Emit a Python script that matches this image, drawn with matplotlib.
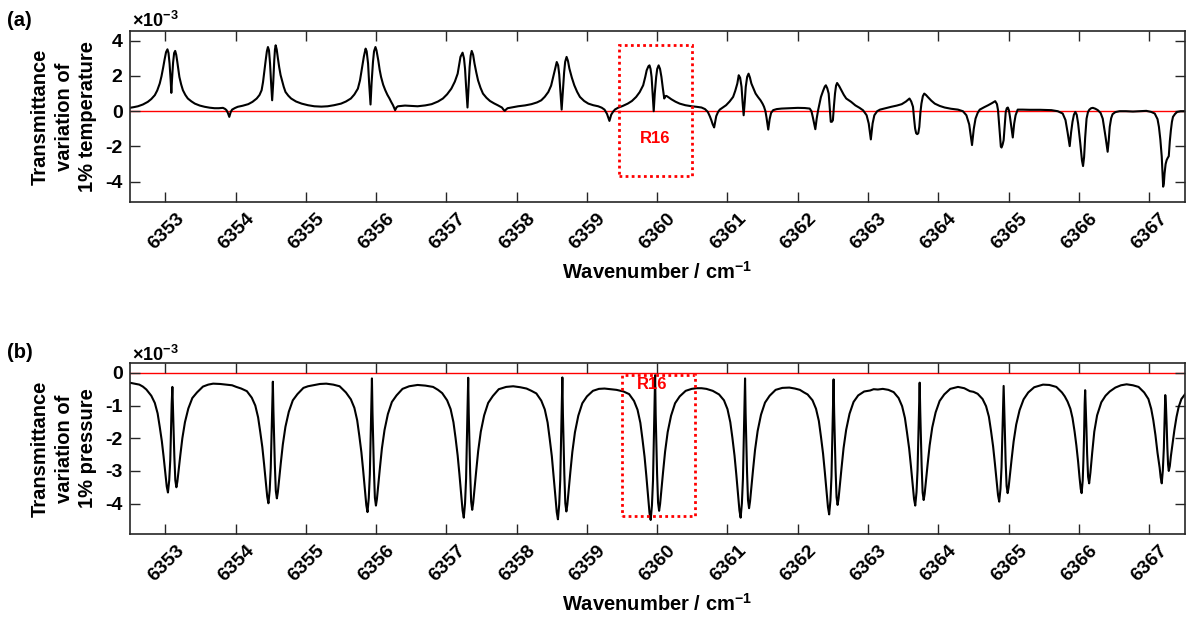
import matplotlib
matplotlib.use("Agg")
import matplotlib.pyplot as plt
import matplotlib.transforms as mtransforms
from matplotlib.patches import Rectangle

plt.rcParams['font.family'] = ['Liberation Sans', 'DejaVu Sans']
plt.rcParams['font.weight'] = 'bold'
plt.rcParams['axes.labelweight'] = 'bold'
plt.rcParams['mathtext.fontset'] = 'custom'
plt.rcParams['mathtext.rm'] = 'Liberation Sans:bold'
plt.rcParams['mathtext.bf'] = 'Liberation Sans:bold'
plt.rcParams['mathtext.default'] = 'bf'

# (a) transmittance change for +1% temperature: (wavenumber, value in 1e-3)
trace_a = [
    (6352.49, 0.19), (6352.55, 0.23), (6352.61, 0.28), (6352.68, 0.38), (6352.75, 0.53),
    (6352.80, 0.69), (6352.85, 0.91), (6352.885, 1.18), (6352.92, 1.57), (6352.945, 1.98),
    (6352.97, 2.50), (6352.99, 2.95), (6353.01, 3.35), (6353.03, 3.51), (6353.045, 3.30),
    (6353.06, 2.70), (6353.075, 1.80), (6353.085, 1.04), (6353.095, 1.80), (6353.11, 2.75),
    (6353.125, 3.30), (6353.14, 3.42), (6353.155, 3.20), (6353.17, 2.80), (6353.185, 2.35),
    (6353.20, 1.94), (6353.225, 1.52), (6353.25, 1.19), (6353.285, 0.92), (6353.32, 0.72),
    (6353.37, 0.56), (6353.42, 0.43), (6353.49, 0.32), (6353.56, 0.25), (6353.63, 0.20),
    (6353.70, 0.17), (6353.76, 0.17), (6353.82, 0.19), (6353.85, 0.13), (6353.87, 0.06),
    (6353.89, -0.10), (6353.91, -0.32), (6353.93, -0.05), (6353.95, 0.09), (6353.99, 0.18),
    (6354.03, 0.25), (6354.10, 0.31), (6354.18, 0.40), (6354.24, 0.53), (6354.30, 0.72),
    (6354.34, 0.92), (6354.37, 1.19), (6354.39, 1.65), (6354.41, 2.32), (6354.43, 2.95),
    (6354.445, 3.40), (6354.46, 3.64), (6354.475, 3.45), (6354.49, 2.70), (6354.505, 1.60),
    (6354.52, 0.62), (6354.535, 1.60), (6354.55, 2.90), (6354.56, 3.50), (6354.57, 3.74),
    (6354.585, 3.50), (6354.60, 3.05), (6354.62, 2.50), (6354.64, 2.05), (6354.66, 1.75),
    (6354.685, 1.38), (6354.71, 1.09), (6354.75, 0.88), (6354.79, 0.72), (6354.86, 0.55),
    (6354.94, 0.43), (6355.03, 0.34), (6355.12, 0.28), (6355.22, 0.26), (6355.31, 0.28),
    (6355.40, 0.34), (6355.50, 0.43), (6355.57, 0.55), (6355.64, 0.72), (6355.69, 0.95),
    (6355.74, 1.28), (6355.77, 1.75), (6355.80, 2.50), (6355.825, 3.10), (6355.85, 3.55),
    (6355.865, 3.40), (6355.885, 2.70), (6355.90, 1.60), (6355.92, 0.38), (6355.935, 1.60),
    (6355.955, 2.80), (6355.97, 3.40), (6355.99, 3.64), (6356.005, 3.45), (6356.03, 2.89),
    (6356.05, 2.35), (6356.07, 1.94), (6356.10, 1.50), (6356.13, 1.19), (6356.16, 0.93),
    (6356.19, 0.72), (6356.215, 0.52), (6356.24, 0.34), (6356.255, 0.20), (6356.27, 0.06),
    (6356.29, 0.22), (6356.31, 0.28), (6356.41, 0.32), (6356.50, 0.30), (6356.59, 0.28),
    (6356.70, 0.33), (6356.79, 0.40), (6356.88, 0.55), (6356.95, 0.72), (6357.01, 0.96),
    (6357.07, 1.28), (6357.12, 1.68), (6357.16, 2.13), (6357.18, 2.60), (6357.20, 3.08),
    (6357.23, 3.32), (6357.25, 3.00), (6357.265, 2.40), (6357.28, 1.40), (6357.30, 0.21),
    (6357.315, 1.40), (6357.33, 2.50), (6357.345, 3.15), (6357.36, 3.42), (6357.38, 3.20),
    (6357.40, 2.70), (6357.425, 2.20), (6357.45, 1.75), (6357.485, 1.33), (6357.52, 1.00),
    (6357.57, 0.76), (6357.62, 0.58), (6357.68, 0.44), (6357.73, 0.34), (6357.79, 0.21),
    (6357.81, 0.10), (6357.83, 0.02), (6357.85, 0.10), (6357.87, 0.17), (6357.95, 0.23),
    (6358.02, 0.28), (6358.12, 0.33), (6358.21, 0.40), (6358.29, 0.50), (6358.35, 0.62),
    (6358.40, 0.82), (6358.45, 1.09), (6358.49, 1.45), (6358.52, 1.94), (6358.55, 2.45),
    (6358.57, 2.79), (6358.59, 2.60), (6358.605, 2.10), (6358.625, 1.00), (6358.64, 0.09),
    (6358.655, 1.00), (6358.675, 2.20), (6358.69, 2.80), (6358.71, 3.08), (6358.73, 2.85),
    (6358.75, 2.42), (6358.785, 1.90), (6358.82, 1.47), (6358.86, 1.10), (6358.90, 0.81),
    (6358.96, 0.58), (6359.02, 0.43), (6359.09, 0.34), (6359.16, 0.28), (6359.21, 0.20),
    (6359.25, 0.09), (6359.285, -0.15), (6359.32, -0.55), (6359.345, -0.20), (6359.37, -0.04),
    (6359.40, 0.10), (6359.44, 0.19), (6359.51, 0.30), (6359.58, 0.43), (6359.64, 0.58),
    (6359.70, 0.81), (6359.75, 1.08), (6359.80, 1.47), (6359.83, 1.95), (6359.85, 2.32),
    (6359.875, 2.55), (6359.89, 2.60), (6359.905, 2.40), (6359.92, 1.94), (6359.935, 1.00),
    (6359.95, 0.00), (6359.965, 1.00), (6359.985, 1.94), (6360.00, 2.40), (6360.02, 2.60),
    (6360.04, 2.40), (6360.06, 1.94), (6360.08, 1.30), (6360.10, 0.72), (6360.115, 0.85),
    (6360.13, 0.87), (6360.165, 0.78), (6360.20, 0.68), (6360.26, 0.54), (6360.32, 0.43),
    (6360.40, 0.34), (6360.49, 0.28), (6360.56, 0.25), (6360.63, 0.21), (6360.68, 0.12),
    (6360.72, -0.04), (6360.75, -0.30), (6360.77, -0.51), (6360.79, -0.75), (6360.81, -0.92),
    (6360.825, -0.60), (6360.84, -0.28), (6360.865, -0.05), (6360.89, 0.09), (6360.93, 0.20),
    (6360.98, 0.34), (6361.03, 0.55), (6361.08, 0.81), (6361.11, 1.15), (6361.14, 1.57),
    (6361.16, 2.04), (6361.18, 1.90), (6361.20, 1.38), (6361.215, 0.50), (6361.23, -0.23),
    (6361.245, 0.50), (6361.26, 1.38), (6361.28, 1.95), (6361.30, 2.13), (6361.32, 1.90),
    (6361.34, 1.57), (6361.37, 1.28), (6361.40, 1.00), (6361.435, 0.80), (6361.47, 0.62),
    (6361.50, 0.42), (6361.52, 0.25), (6361.54, 0.00), (6361.555, -0.35), (6361.58, -1.04),
    (6361.60, -0.45), (6361.62, -0.10), (6361.65, 0.06), (6361.70, 0.12), (6361.77, 0.15),
    (6361.88, 0.17), (6362.00, 0.19), (6362.10, 0.18), (6362.17, 0.15), (6362.195, 0.00),
    (6362.215, -0.35), (6362.25, -1.02), (6362.27, -0.40), (6362.29, 0.06), (6362.31, 0.45),
    (6362.33, 0.81), (6362.36, 1.15), (6362.385, 1.40), (6362.40, 1.47), (6362.42, 1.30),
    (6362.44, 1.00), (6362.455, 0.20), (6362.47, -0.60), (6362.485, -0.60), (6362.50, -0.51),
    (6362.515, 0.30), (6362.53, 1.00), (6362.545, 1.45), (6362.56, 1.60), (6362.59, 1.42),
    (6362.62, 1.19), (6362.655, 0.93), (6362.69, 0.72), (6362.76, 0.53), (6362.82, 0.33),
    (6362.88, 0.19), (6362.93, 0.05), (6362.98, -0.23), (6363.01, -0.70), (6363.04, -1.60),
    (6363.065, -0.70), (6363.09, -0.23), (6363.13, 0.00), (6363.17, 0.09), (6363.25, 0.17),
    (6363.33, 0.25), (6363.41, 0.32), (6363.48, 0.40), (6363.54, 0.55), (6363.59, 0.72),
    (6363.615, 0.55), (6363.64, 0.25), (6363.655, -0.40), (6363.67, -0.98), (6363.685, -1.25),
    (6363.70, -1.30), (6363.715, -1.25), (6363.73, -0.89), (6363.745, -0.10), (6363.76, 0.43),
    (6363.78, 0.85), (6363.80, 1.00), (6363.825, 0.92), (6363.85, 0.81), (6363.90, 0.60),
    (6363.95, 0.43), (6364.02, 0.30), (6364.09, 0.21), (6364.18, 0.14), (6364.28, 0.09),
    (6364.35, 0.00), (6364.40, -0.23), (6364.44, -0.75), (6364.48, -1.92), (6364.505, -1.00),
    (6364.53, -0.42), (6364.56, -0.10), (6364.59, 0.09), (6364.65, 0.22), (6364.71, 0.34),
    (6364.76, 0.45), (6364.81, 0.57), (6364.835, 0.40), (6364.85, 0.06), (6364.865, -0.70),
    (6364.88, -1.45), (6364.89, -2.00), (6364.90, -2.06), (6364.915, -1.90), (6364.93, -1.64),
    (6364.945, -0.80), (6364.96, -0.04), (6364.975, 0.17), (6364.99, 0.21), (6365.005, 0.05),
    (6365.02, -0.32), (6365.04, -0.90), (6365.06, -1.49), (6365.08, -0.70), (6365.10, -0.23),
    (6365.13, 0.09), (6365.20, 0.09), (6365.30, 0.08), (6365.45, 0.08), (6365.61, 0.06),
    (6365.70, 0.00), (6365.77, -0.13), (6365.81, -0.50), (6365.84, -1.20), (6365.87, -1.98),
    (6365.89, -1.20), (6365.91, -0.60), (6365.93, -0.20), (6365.95, -0.04), (6365.97, -0.20),
    (6365.99, -0.70), (6366.02, -1.80), (6366.045, -2.80), (6366.06, -3.11), (6366.075, -2.60),
    (6366.09, -1.50), (6366.11, -0.42), (6366.13, -0.05), (6366.15, 0.09), (6366.175, 0.17),
    (6366.20, 0.19), (6366.235, 0.14), (6366.27, 0.06), (6366.31, -0.10), (6366.34, -0.42),
    (6366.38, -1.45), (6366.41, -2.30), (6366.425, -1.70), (6366.44, -0.89), (6366.46, -0.40),
    (6366.48, -0.17), (6366.52, -0.05), (6366.58, 0.00), (6366.67, 0.00), (6366.77, -0.02),
    (6366.87, 0.00), (6366.96, 0.02), (6367.03, -0.04), (6367.08, -0.13), (6367.12, -0.45),
    (6367.14, -0.89), (6367.16, -1.60), (6367.18, -2.58), (6367.19, -3.50), (6367.20, -4.28),
    (6367.21, -4.10), (6367.22, -3.53), (6367.235, -3.00), (6367.25, -2.77), (6367.265, -2.65),
    (6367.28, -2.55), (6367.295, -1.70), (6367.31, -1.08), (6367.325, -0.60), (6367.34, -0.32),
    (6367.37, -0.15), (6367.40, -0.04), (6367.45, 0.00), (6367.52, 0.00),
]

# (b) transmittance change for +1% pressure: (wavenumber, value in 1e-3)
trace_b = [
    (6352.49, -0.30), (6352.56, -0.33), (6352.63, -0.36), (6352.68, -0.42),
    (6352.73, -0.51), (6352.80, -0.70), (6352.85, -0.92), (6352.89, -1.24), (6352.92, -1.65),
    (6352.95, -2.09), (6352.975, -2.56), (6353.00, -3.07), (6353.02, -3.48), (6353.037, -3.66),
    (6353.055, -3.29), (6353.07, -2.67), (6353.08, -1.87), (6353.09, -0.95), (6353.10, -0.43),
    (6353.108, -1.05), (6353.118, -1.75), (6353.128, -2.56), (6353.142, -3.29), (6353.157, -3.50),
    (6353.171, -3.33), (6353.189, -2.98), (6353.213, -2.52), (6353.242, -2.00), (6353.279, -1.51),
    (6353.327, -1.09), (6353.384, -0.77), (6353.45, -0.60), (6353.535, -0.42),
    (6353.61, -0.36), (6353.68, -0.33), (6353.78, -0.34), (6353.87, -0.36), (6353.95, -0.38),
    (6354.01, -0.43), (6354.08, -0.48),
    (6354.16, -0.56), (6354.23, -0.76), (6354.28, -1.00), (6354.32, -1.36), (6354.35, -1.80),
    (6354.38, -2.27), (6354.405, -2.79), (6354.43, -3.35), (6354.45, -3.79), (6354.467, -3.99),
    (6354.485, -3.59), (6354.50, -2.91), (6354.51, -2.03), (6354.52, -1.04), (6354.53, -0.27),
    (6354.538, -1.15), (6354.548, -1.92), (6354.558, -2.80), (6354.572, -3.61), (6354.587, -3.84),
    (6354.601, -3.65), (6354.619, -3.26), (6354.643, -2.76), (6354.672, -2.19), (6354.709, -1.65),
    (6354.757, -1.19), (6354.814, -0.84), (6354.88, -0.65), (6354.965, -0.46),
    (6355.03, -0.41), (6355.10, -0.38), (6355.20, -0.34), (6355.29, -0.33), (6355.39, -0.36),
    (6355.48, -0.41),
    (6355.57, -0.60), (6355.64, -0.81), (6355.69, -1.07), (6355.73, -1.45), (6355.76, -1.92),
    (6355.79, -2.43), (6355.815, -2.98), (6355.84, -3.58), (6355.86, -4.05), (6355.877, -4.26),
    (6355.895, -3.83), (6355.91, -3.11), (6355.92, -2.17), (6355.93, -1.11), (6355.94, -0.17),
    (6355.948, -1.22), (6355.958, -2.03), (6355.968, -2.96), (6355.982, -3.82), (6355.997, -4.06),
    (6356.011, -3.86), (6356.029, -3.45), (6356.053, -2.92), (6356.082, -2.31), (6356.119, -1.75),
    (6356.167, -1.26), (6356.224, -0.89), (6356.29, -0.69), (6356.375, -0.49),
    (6356.47, -0.41), (6356.59, -0.37), (6356.70, -0.39), (6356.81, -0.43), (6356.88, -0.52),
    (6356.94, -0.62), (6357.01, -0.84), (6357.06, -1.11), (6357.10, -1.51), (6357.13, -1.99),
    (6357.16, -2.53), (6357.185, -3.10), (6357.21, -3.72), (6357.23, -4.21), (6357.247, -4.43),
    (6357.265, -3.99), (6357.28, -3.23), (6357.29, -2.26), (6357.30, -1.15), (6357.31, -0.15),
    (6357.318, -1.26), (6357.328, -2.10), (6357.338, -3.06), (6357.352, -3.94), (6357.367, -4.19),
    (6357.381, -3.98), (6357.399, -3.56), (6357.423, -3.02), (6357.452, -2.39), (6357.489, -1.80),
    (6357.537, -1.30), (6357.594, -0.92), (6357.66, -0.71), (6357.745, -0.50),
    (6357.85, -0.43), (6357.95, -0.41), (6358.05, -0.44), (6358.14, -0.48), (6358.21, -0.55),
    (6358.28, -0.63), (6358.35, -0.85), (6358.40, -1.12), (6358.44, -1.52), (6358.47, -2.02),
    (6358.50, -2.55), (6358.525, -3.14), (6358.55, -3.76), (6358.57, -4.26), (6358.587, -4.48),
    (6358.605, -4.03), (6358.62, -3.27), (6358.63, -2.28), (6358.64, -1.16), (6358.65, -0.14),
    (6358.658, -1.27), (6358.668, -2.12), (6358.678, -3.10), (6358.692, -3.99), (6358.707, -4.24),
    (6358.721, -4.03), (6358.739, -3.60), (6358.763, -3.05), (6358.792, -2.42), (6358.829, -1.82),
    (6358.877, -1.31), (6358.934, -0.93), (6359.00, -0.72), (6359.085, -0.55),
    (6359.17, -0.49), (6359.25, -0.48), (6359.34, -0.50), (6359.42, -0.52), (6359.52, -0.57),
    (6359.60, -0.65), (6359.67, -0.86), (6359.72, -1.13), (6359.76, -1.53), (6359.79, -2.03),
    (6359.82, -2.57), (6359.845, -3.15), (6359.87, -3.78), (6359.89, -4.28), (6359.907, -4.50),
    (6359.925, -4.05), (6359.94, -3.29), (6359.95, -2.30), (6359.96, -1.17), (6359.97, -0.07),
    (6359.978, -1.27), (6359.988, -2.11), (6359.998, -3.08), (6360.012, -3.97), (6360.027, -4.22),
    (6360.041, -4.01), (6360.059, -3.59), (6360.083, -3.04), (6360.112, -2.41), (6360.149, -1.81),
    (6360.197, -1.31), (6360.254, -0.93), (6360.32, -0.72), (6360.405, -0.55),
    (6360.49, -0.49), (6360.56, -0.47), (6360.63, -0.47), (6360.70, -0.49), (6360.79, -0.55),
    (6360.88, -0.66), (6360.95, -0.84), (6361.00, -1.11), (6361.04, -1.51), (6361.07, -1.99),
    (6361.10, -2.53), (6361.125, -3.10), (6361.15, -3.72), (6361.17, -4.21), (6361.187, -4.43),
    (6361.205, -3.99), (6361.22, -3.23), (6361.23, -2.26), (6361.24, -1.15), (6361.25, -0.17),
    (6361.258, -1.24), (6361.268, -2.07), (6361.278, -3.02), (6361.292, -3.89), (6361.307, -4.14),
    (6361.321, -3.93), (6361.339, -3.52), (6361.363, -2.98), (6361.392, -2.36), (6361.429, -1.78),
    (6361.477, -1.28), (6361.534, -0.91), (6361.60, -0.70), (6361.685, -0.52),
    (6361.78, -0.46), (6361.88, -0.45), (6361.96, -0.48), (6362.03, -0.52), (6362.09, -0.60),
    (6362.14, -0.66), (6362.21, -0.84), (6362.26, -1.10), (6362.30, -1.47), (6362.33, -1.95),
    (6362.36, -2.47), (6362.385, -3.03), (6362.41, -3.64), (6362.43, -4.11), (6362.447, -4.33),
    (6362.465, -3.90), (6362.48, -3.16), (6362.49, -2.21), (6362.50, -1.13), (6362.51, -0.20),
    (6362.518, -1.21), (6362.528, -2.02), (6362.538, -2.95), (6362.552, -3.80), (6362.567, -4.04),
    (6362.581, -3.84), (6362.599, -3.43), (6362.623, -2.91), (6362.652, -2.30), (6362.689, -1.74),
    (6362.737, -1.25), (6362.794, -0.89), (6362.86, -0.69), (6362.945, -0.57),
    (6363.03, -0.54), (6363.08, -0.50), (6363.14, -0.51), (6363.21, -0.49), (6363.29, -0.52),
    (6363.365, -0.59), (6363.435, -0.77), (6363.485, -1.02), (6363.525, -1.38), (6363.555, -1.83),
    (6363.585, -2.31), (6363.61, -2.84), (6363.635, -3.41), (6363.655, -3.86), (6363.672, -4.06),
    (6363.69, -3.65), (6363.705, -2.96), (6363.715, -2.07), (6363.725, -1.06), (6363.735, -0.30),
    (6363.743, -1.17), (6363.753, -1.95), (6363.763, -2.84), (6363.777, -3.66), (6363.792, -3.89),
    (6363.806, -3.70), (6363.824, -3.31), (6363.848, -2.80), (6363.877, -2.22), (6363.914, -1.67),
    (6363.962, -1.21), (6364.019, -0.86), (6364.085, -0.66), (6364.17, -0.49),
    (6364.28, -0.43), (6364.37, -0.47), (6364.45, -0.56), (6364.50, -0.58),
    (6364.56, -0.64), (6364.63, -0.80), (6364.68, -1.02), (6364.72, -1.34), (6364.75, -1.77),
    (6364.78, -2.25), (6364.805, -2.76), (6364.83, -3.31), (6364.85, -3.74), (6364.867, -3.94),
    (6364.885, -3.55), (6364.90, -2.88), (6364.91, -2.01), (6364.92, -1.02), (6364.93, -0.40),
    (6364.938, -1.10), (6364.948, -1.84), (6364.958, -2.69), (6364.972, -3.46), (6364.987, -3.68),
    (6365.001, -3.50), (6365.019, -3.13), (6365.043, -2.65), (6365.072, -2.10), (6365.109, -1.58),
    (6365.157, -1.14), (6365.214, -0.81), (6365.28, -0.60), (6365.365, -0.44),
    (6365.49, -0.36), (6365.58, -0.37), (6365.68, -0.43), (6365.76, -0.60),
    (6365.80, -0.72), (6365.84, -0.88), (6365.88, -1.10), (6365.91, -1.38), (6365.94, -1.80),
    (6365.965, -2.22), (6365.99, -2.72), (6366.01, -3.20), (6366.027, -3.55), (6366.04, -3.68),
    (6366.055, -3.30), (6366.065, -2.69), (6366.075, -1.88), (6366.083, -0.96), (6366.09, -0.53),
    (6366.098, -1.01), (6366.108, -1.69), (6366.118, -2.47), (6366.132, -3.18), (6366.147, -3.38),
    (6366.165, -3.05), (6366.19, -2.45), (6366.22, -1.80), (6366.26, -1.30), (6366.32, -0.90),
    (6366.38, -0.70), (6366.44, -0.57), (6366.52, -0.45),
    (6366.60, -0.38), (6366.68, -0.35), (6366.77, -0.38), (6366.85, -0.43),
    (6366.93, -0.60), (6366.99, -0.80), (6367.03, -1.10), (6367.06, -1.45), (6367.09, -1.90),
    (6367.12, -2.45), (6367.15, -2.90), (6367.165, -3.20), (6367.18, -3.38), (6367.195, -3.00),
    (6367.21, -2.30), (6367.22, -1.50), (6367.23, -0.68), (6367.24, -1.00), (6367.25, -1.60),
    (6367.26, -2.30), (6367.27, -2.80), (6367.28, -3.00), (6367.295, -2.85), (6367.31, -2.55),
    (6367.335, -2.15), (6367.36, -1.75), (6367.39, -1.35), (6367.42, -1.05), (6367.46, -0.80),
    (6367.52, -0.63),
]

wn_a, dT_a = zip(*trace_a)
wn_b, dp_b = zip(*trace_b)

xticks = list(range(6353, 6368))
yticks_a = [-4, -2, 0, 2, 4]
yticks_b = [-4, -3, -2, -1, 0]

# R16 boxes: (x0, x1, y0, y1) and label position
box_a = (6359.45, 6360.49, -3.67, 3.76)
box_b = (6359.50, 6360.54, -4.37, -0.08)
r16_a = (6359.97, -1.53)
r16_b = (6359.93, -0.35)

fig = plt.figure(figsize=(11.86, 6.21), dpi=100)
ax_a = fig.add_axes([0.1092, 0.6747, 0.8899, 0.2754])
ax_b = fig.add_axes([0.1092, 0.1401, 0.8899, 0.2758])

panels = [
    (ax_a, wn_a, dT_a, yticks_a, (-5.15, 4.55), box_a, r16_a,
     'Transmittance\nvariation of\n1% temperature', 1.026),
    (ax_b, wn_b, dp_b, yticks_b, (-4.93, 0.31), box_b, r16_b,
     'Transmittance\nvariation of\n1% pressure', 1.012),
]

# rotated x labels: anchored below the tick, shifted a little to the right
label_shift = mtransforms.ScaledTranslation(10 / 100, -8.5 / 100, fig.dpi_scale_trans)

for ax, wn, val, yt, ylim, box, r16, ylab, exp_y in panels:
    ax.axhline(0, color='red', lw=1.0, zorder=1)
    ax.plot(wn, val, color='black', lw=1.5, zorder=2)
    ax.add_patch(Rectangle((box[0], box[2]), box[1] - box[0], box[3] - box[2],
                           fill=False, edgecolor='red', lw=2.0,
                           linestyle=(0, (1, 1.2)), zorder=3))
    ax.text(r16[0], r16[1], 'R16', color='red', fontsize=12, fontweight='bold',
            ha='center', va='center', zorder=4)

    ax.set_xlim(6352.49, 6367.51)
    ax.set_ylim(*ylim)
    ax.set_xticks(xticks)
    ax.set_xticklabels([])
    for t in xticks:
        ax.text(t, 0, str(t), transform=ax.get_xaxis_transform() + label_shift,
                rotation=45, ha='right', va='top', rotation_mode='anchor',
                fontsize=14, fontweight='bold', clip_on=False)
    ax.set_yticks(yt)
    ax.set_yticklabels([str(t) for t in yt])
    ax.tick_params(direction='in', length=7.5, width=1.0, top=True, right=True,
                   labelsize=14, color='#262626')
    ax.tick_params(axis='y', pad=5)
    for sp in ax.spines.values():
        sp.set_linewidth(1.2)
        sp.set_color('#262626')

    ax.set_ylabel(ylab, fontsize=14.5, fontweight='bold', ha='center',
                  va='center', multialignment='center', linespacing=1.3)
    ax.yaxis.set_label_coords(-0.062, 0.5)
    ax.text(0.5, -0.45, 'Wavenumber / cm$^{-1}$', transform=ax.transAxes,
            ha='center', va='baseline', fontsize=14.5, fontweight='bold')
    ax.text(0.002, exp_y, '×10$^{-3}$', transform=ax.transAxes,
            ha='left', va='baseline', fontsize=13, fontweight='bold')

fig.text(0.006, 1 - 20 / 621, '(a)', fontsize=14.5, fontweight='bold', va='center')
fig.text(0.006, 1 - 353 / 621, '(b)', fontsize=14.5, fontweight='bold', va='center')

fig.savefig('out.png', dpi=100)
